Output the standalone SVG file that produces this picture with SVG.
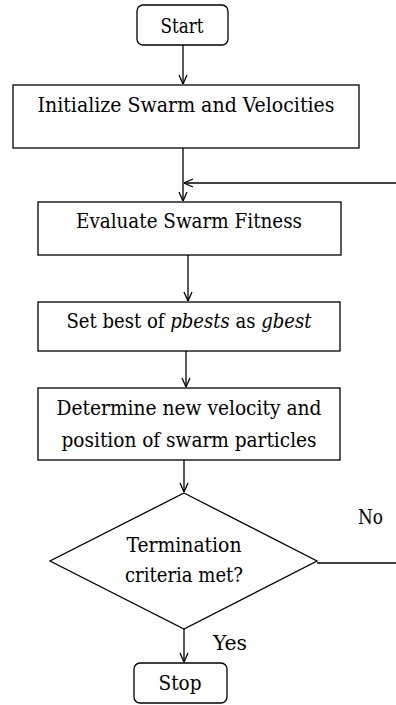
<svg xmlns="http://www.w3.org/2000/svg" width="396" height="705" viewBox="0 0 396 705">
<style>
.box{fill:#fff;stroke:#000;stroke-width:1.3}
.t{font-size:20.5px;fill:#000;text-anchor:middle}
.l{font-size:20.5px;fill:#000}
.c{fill:none;stroke:#000;stroke-width:1.3}
</style>
<defs>
<marker id="ah" viewBox="0 0 10 10" refX="10" refY="5" markerWidth="10" markerHeight="10" markerUnits="userSpaceOnUse" orient="auto">
<path d="M1,1 L10,5 L1,9" fill="none" stroke="#000" stroke-width="1.3"/>
</marker>
</defs>
<rect width="396" height="705" fill="#fff"/>
<g font-family="'DejaVu Serif Condensed', 'DejaVu Serif', serif" font-stretch="condensed">
<g id="connectors">
<line class="c" x1="183" y1="45" x2="183" y2="84" marker-end="url(#ah)"/>
<line class="c" x1="183" y1="148" x2="183" y2="201" marker-end="url(#ah)"/>
<line class="c" x1="396" y1="183" x2="184" y2="183" marker-end="url(#ah)"/>
<line class="c" x1="188" y1="255" x2="188" y2="301" marker-end="url(#ah)"/>
<line class="c" x1="186" y1="351" x2="186" y2="387" marker-end="url(#ah)"/>
<line class="c" x1="184" y1="460" x2="184" y2="492" marker-end="url(#ah)"/>
<line class="c" x1="184" y1="629" x2="184" y2="662" marker-end="url(#ah)"/>
<line class="c" x1="317" y1="563" x2="396" y2="563"/>
<text class="l" x="358" y="524" textLength="25" lengthAdjust="spacingAndGlyphs">No</text>
<text class="l" x="213" y="650" textLength="34" lengthAdjust="spacingAndGlyphs">Yes</text>
</g>
<g id="start">
<rect class="box" x="137" y="5" width="91" height="40" rx="6"/>
<text class="t" x="182" y="33" textLength="43" lengthAdjust="spacingAndGlyphs">Start</text>
</g>
<g id="init">
<rect class="box" x="13" y="85" width="346" height="63"/>
<text class="t" x="186" y="112" textLength="297" lengthAdjust="spacingAndGlyphs">Initialize Swarm and Velocities</text>
</g>
<g id="evaluate">
<rect class="box" x="38" y="202" width="303" height="53"/>
<text class="t" x="189" y="228" textLength="226" lengthAdjust="spacingAndGlyphs">Evaluate Swarm Fitness</text>
</g>
<g id="setbest">
<rect class="box" x="38" y="302" width="302" height="49"/>
<text class="t" x="189" y="328" textLength="245" lengthAdjust="spacingAndGlyphs">Set best of <tspan font-style="italic">pbests</tspan> as <tspan font-style="italic">gbest</tspan></text>
</g>
<g id="determine">
<rect class="box" x="38" y="388" width="302" height="72"/>
<text class="t" x="189" y="415" textLength="265" lengthAdjust="spacingAndGlyphs">Determine new velocity and</text>
<text class="t" x="189" y="447" textLength="255" lengthAdjust="spacingAndGlyphs">position of swarm particles</text>
</g>
<g id="decision">
<polygon class="box" points="184,493 317,561 184,629 50,561"/>
<text class="t" x="184" y="552" textLength="115" lengthAdjust="spacingAndGlyphs">Termination</text>
<text class="t" x="184" y="582" textLength="118" lengthAdjust="spacingAndGlyphs">criteria met?</text>
</g>
<g id="stop">
<rect class="box" x="134" y="663" width="93" height="40" rx="6"/>
<text class="t" x="180" y="690" textLength="43" lengthAdjust="spacingAndGlyphs">Stop</text>
</g>
</g>
</svg>
